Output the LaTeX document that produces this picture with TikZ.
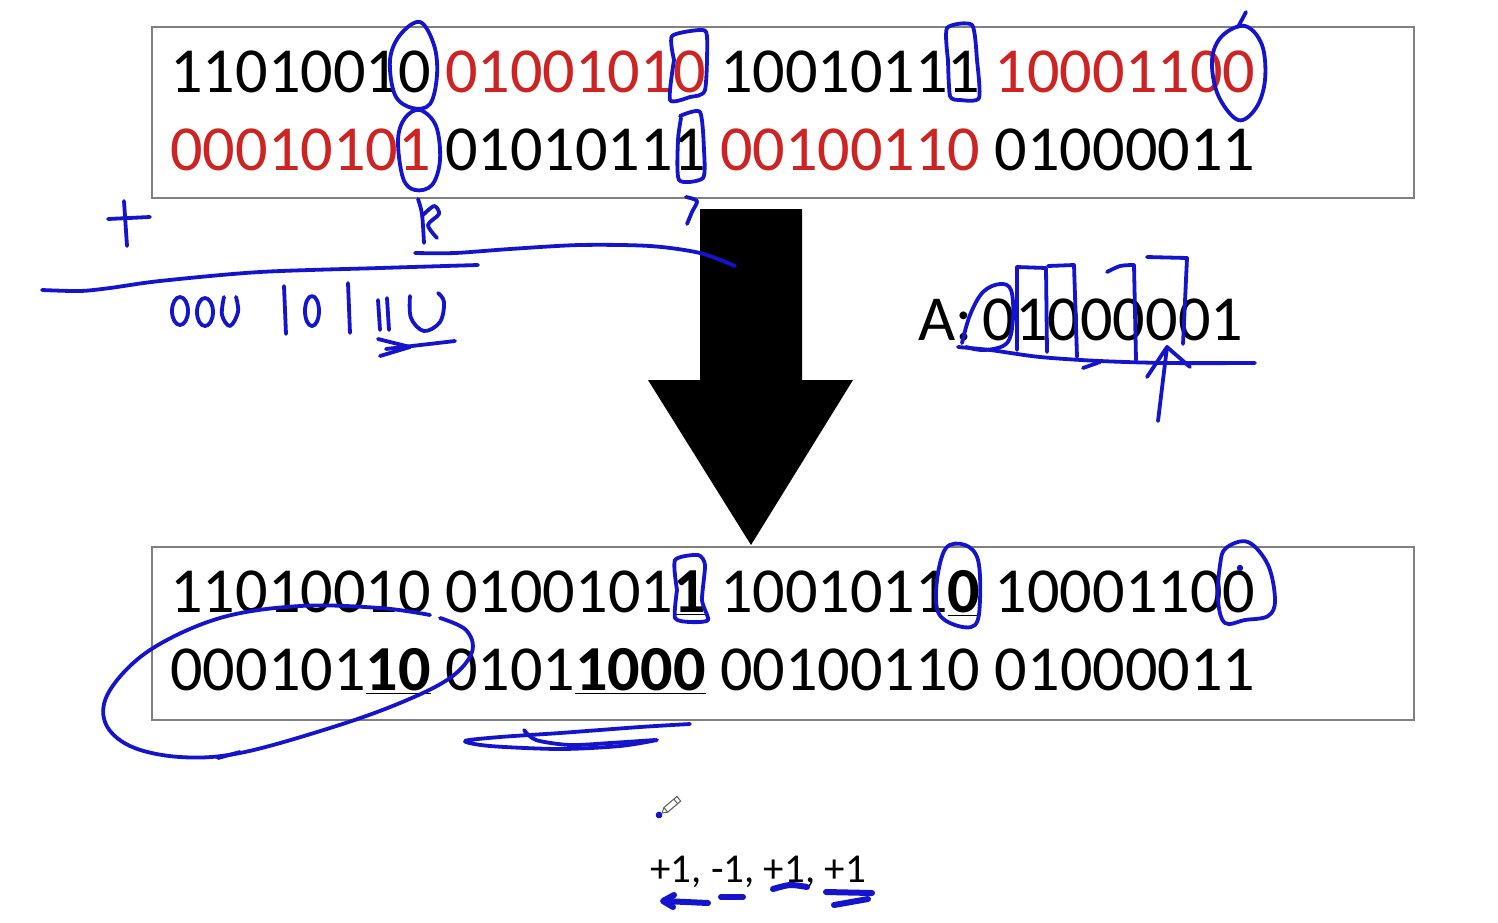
\documentclass[tikz,border=0pt]{standalone}
\usepackage{fontspec}
\setmainfont{Carlito}
\definecolor{pen}{RGB}{20,20,205}
\definecolor{slred}{RGB}{205,35,35}
\definecolor{boxgray}{RGB}{128,128,128}
\newcommand\bu[1]{\underline{\textbf{#1}}}
\begin{document}
\begin{tikzpicture}[x=0.5pt,y=-0.5pt,
  pen/.style={draw=pen, line width=1.9pt, line cap=round, line join=round},
  fatpen/.style={draw=pen, line width=3pt, line cap=round, line join=round},
  box/.style={draw=boxgray, line width=0.8pt, inner sep=0pt},
  bin/.style={anchor=base west, inner sep=0pt, font=\fontsize{32.1}{38}\selectfont},
  small/.style={anchor=base west, inner sep=0pt, font=\fontsize{20.5}{24}\selectfont},
]
\useasboundingbox (0,0) rectangle (1498,922);
\fill[white] (0,0) rectangle (1498,922);

% boxes
\node[box, minimum width=631pt, minimum height=85.5pt] (topbox) at (783,112.5) {};
\node[box, minimum width=631pt, minimum height=86.5pt] (botbox) at (783,633.5) {};

% top text
\node[bin] (t1) at (170,92) {11010010 \textcolor{slred}{01001010} 10010111 \textcolor{slred}{10001100}};
\node[bin] (t2) at (170,170) {\textcolor{slred}{00010101} 01010111 \textcolor{slred}{00100110} 01000011};

% bottom text
\node[bin] (b1) at (170,612) {11010010 0100101\bu{1} 1001011\bu{0} 10001100};
\node[bin] (b2) at (170,690) {000101\bu{10} 0101\bu{1000} 00100110 01000011};

% block arrow
\fill[black] (700,209) -- (802,209) -- (802,380) -- (853,380) -- (751,545) -- (648,380) -- (700,380) -- cycle;

% A code
\node[bin] (acode) at (918,340) {A:\kern5pt01000001};

% steps
\node[small] (steps) at (650,882) {+1, -1, +1, +1};

% pencil icon
\draw[boxgray!70!black, line width=0.5pt, line join=round] (662,813) -- (667.7,812.1) -- (680.7,801.1) -- (676.9,796.5) -- (663.9,807.5) -- cycle;
\draw[boxgray!70!black, line width=0.5pt] (667.7,812.1) -- (663.9,807.5) (677.6,803.7) -- (673.8,799.1);
\fill[pen] (659,815) circle (1.8);

% ---- handwriting, top box ----
\draw[pen] plot[smooth cycle, tension=0.6] coordinates {(420,22) (434,45) (437,75) (430,104) (412,108) (395,95) (390,60) (400,35)};
\draw[pen] plot[smooth cycle, tension=0.6] coordinates {(420,110) (436,126) (440,160) (432,185) (415,190) (403,178) (398,140) (405,118)};
\draw[pen] plot[smooth, tension=0.4] coordinates {(674,60) (672,36) (700,30) (707,36) (705,90) (690,97) (670,100) (674,60)};
\draw[pen] plot[smooth, tension=0.4] coordinates {(680,116) (700,112) (704,150) (703,178) (679,180) (678,140) (681,118)};
\draw[pen] plot[smooth, tension=0.5] coordinates {(686,197) (697,201) (692,212) (687,224)};
\draw[pen] plot[smooth, tension=0.4] coordinates {(948,60) (947,28) (972,25) (977,60) (979,98) (960,100) (950,96) (948,60)};
\draw[pen] plot[smooth cycle, tension=0.6] coordinates {(1245,26) (1262,45) (1265,80) (1256,108) (1238,120) (1218,95) (1212,60) (1222,36)};
\draw[pen] (1238,27) -- (1246,12);

% r-like scribble
\draw[pen] plot[smooth, tension=0.5] coordinates {(418,199) (422,214) (424,243)};
\draw[pen] plot[smooth, tension=0.5] coordinates {(422,216) (434,206) (439,214) (428,225) (437,238)};

% plus and sum lines
\draw[pen] (108,219) -- (150,217);
\draw[pen] (124,201) -- (127,246);
\draw[pen] plot[smooth] coordinates {(42,290) (80,291) (110,288) (160,281) (260,272) (380,268) (478,265)};
\draw[pen] plot[smooth] coordinates {(415,253) (455,253) (510,249) (580,245) (650,246) (700,253) (735,266)};

% handwritten result 000|0|11U
\draw[pen] (180,311) ellipse [x radius=8, y radius=14];
\draw[pen] (205,312) ellipse [x radius=8, y radius=14];
\draw[pen] plot[smooth, tension=0.6] coordinates {(224,297) (222,315) (230,326) (238,312) (236,297)};
\draw[pen] (284,286) -- (286,334);
\draw[pen] (312,311) ellipse [x radius=7, y radius=15];
\draw[pen] (348,283) -- (350,333);
\draw[pen] (378,300) -- (380,330);
\draw[pen] (387,298) -- (389,330);
\draw[pen] plot[smooth, tension=0.6] coordinates {(410,296) (411,318) (424,331) (440,322) (444,302) (438,293)};
\draw[pen] (386,349) -- (455,341);
\draw[pen] (378,339) -- (410,347) -- (380,356);

% A code annotations
\draw[pen] plot[smooth, tension=0.6] coordinates {(962,343) (970,315) (983,292) (1000,284) (1011,290) (1013,318) (1007,343) (985,350) (966,347)};
\draw[pen] (1017,350) -- (1017,267) -- (1046,268) -- (1047,352);
\draw[pen] (1048,266) -- (1074,265) -- (1077,357);
\draw[pen] plot[smooth, tension=0.5] coordinates {(1107,272) (1120,266) (1134,265)};
\draw[pen] (1134,265) -- (1136,360);
\draw[pen] (1147,257) -- (1187,258) -- (1183,344);
\draw[pen] plot[smooth] coordinates {(958,347) (990,350) (1040,357) (1100,361) (1167,363) (1255,363)};
\draw[pen] (1083,368) -- (1100,362);
\draw[pen] (1158,421) -- (1167,347);
\draw[pen] (1147,377) -- (1167,347) -- (1190,367);

% ---- handwriting, bottom box ----
\draw[pen] plot[smooth, tension=0.4] coordinates {(677,590) (675,560) (698,555) (705,565) (702,600) (708,620) (690,622) (675,618) (677,590)};
\draw[pen] plot[smooth cycle, tension=0.6] coordinates {(946,548) (965,545) (978,560) (980,600) (975,625) (955,625) (938,612) (937,580)};
\draw[pen] plot[smooth cycle, tension=0.6] coordinates {(1226,548) (1248,542) (1268,565) (1275,600) (1268,616) (1245,620) (1225,623) (1218,600) (1220,565)};
\fill[pen] (1240,568) circle (1.5);

% big ellipse
\draw[pen] plot[smooth, tension=0.6] coordinates {(430,615) (380,608) (300,606) (220,618) (150,650) (110,690) (105,722) (130,746) (180,757) (240,753) (330,728) (400,703) (450,678) (472,652) (466,630) (440,618)};
\draw[pen] (218,758) -- (240,752);

% swoosh under line 2
\draw[pen] plot[smooth, tension=0.5] coordinates {(690,724) (640,727) (560,733) (500,737) (465,741) (490,746) (560,749) (620,746) (657,740)};
\draw[pen] plot[smooth, tension=0.5] coordinates {(524,730) (536,740) (570,745) (610,743) (655,740)};

% under the steps
\draw[fatpen] (708,903) -- (664,901);
\draw[fatpen] (674,895) -- (663,901) -- (673,907);
\draw[fatpen] (721,897) -- (743,897);
\draw[fatpen] plot[smooth] coordinates {(773,889) (790,885) (807,887)};
\draw[fatpen] (826,892) -- (872,893);
\draw[fatpen] (834,905) -- (868,899);
\end{tikzpicture}
\end{document}
